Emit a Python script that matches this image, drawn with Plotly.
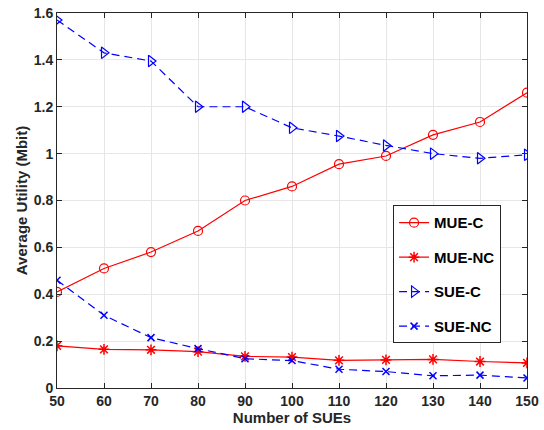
import plotly.graph_objects as go

x_sues = [50, 60, 70, 80, 90, 100, 110, 120, 130, 140, 150]
mue_c = [0.41, 0.51, 0.58, 0.67, 0.80, 0.86, 0.955, 0.99, 1.08, 1.135, 1.26]
mue_nc = [0.18, 0.165, 0.163, 0.155, 0.135, 0.132, 0.118, 0.12, 0.122, 0.113, 0.107]
sue_c = [1.57, 1.43, 1.395, 1.20, 1.20, 1.11, 1.075, 1.035, 1.00, 0.98, 0.995]
sue_nc = [0.46, 0.31, 0.215, 0.168, 0.125, 0.117, 0.08, 0.07, 0.052, 0.055, 0.043]

x_ticks = [50, 60, 70, 80, 90, 100, 110, 120, 130, 140, 150]
y_ticks = [0, 0.2, 0.4, 0.6, 0.8, 1, 1.2, 1.4, 1.6]
y_tick_labels = ["0", "0.2", "0.4", "0.6", "0.8", "1", "1.2", "1.4", "1.6"]

RED = "#ff0000"
BLUE = "#0000ff"
DASH = "8px,5px"

fig = go.Figure()
fig.add_trace(go.Scatter(x=x_sues, y=mue_c, name="MUE-C", mode="lines+markers", legendgroup="a",
                         line=dict(color=RED, width=1.2),
                         marker=dict(symbol="circle-open", size=9, color=RED, line=dict(width=1.2))))
fig.add_trace(go.Scatter(x=x_sues, y=mue_nc, name="MUE-NC", mode="lines+markers", legendgroup="b",
                         line=dict(color=RED, width=1.2),
                         marker=dict(symbol="asterisk-open", size=9, color=RED, line=dict(width=1.5, color=RED))))
fig.add_trace(go.Scatter(x=x_sues, y=sue_c, name="SUE-C", mode="lines+markers", legendgroup="c",
                         line=dict(color=BLUE, width=1.2, dash=DASH),
                         marker=dict(symbol="triangle-right-open", size=10, color=BLUE, line=dict(width=1.2))))
fig.add_trace(go.Scatter(x=x_sues, y=sue_nc, name="SUE-NC", mode="lines+markers", legendgroup="d",
                         line=dict(color=BLUE, width=1.2, dash=DASH),
                         marker=dict(symbol="x-thin-open", size=7, color=BLUE, line=dict(width=1.5, color=BLUE))))

axis_common = dict(showline=True, linecolor="#262626", linewidth=1, mirror="ticks",
                   ticks="inside", ticklen=5, tickcolor="#262626", automargin=False,
                   showgrid=True, gridcolor="#e6e6e6", gridwidth=1, zeroline=False,
                   tickfont=dict(family="Liberation Sans", size=14, color="#262626"))

fig.update_xaxes(range=[50, 150], tickvals=x_ticks, ticktext=[f"<b>{v}</b>" for v in x_ticks],
                 title=dict(text="<b>Number of SUEs</b>", font=dict(family="Liberation Sans", size=15, color="#262626"),
                            standoff=4),
                 **axis_common)
fig.update_yaxes(range=[0, 1.6], tickvals=y_ticks, ticktext=[f"<b>{t}</b>" for t in y_tick_labels],
                 title=dict(text="<b>Average Utility (Mbit)</b>", font=dict(family="Liberation Sans", size=15, color="#262626"),
                            standoff=2),
                 **axis_common)

fig.update_layout(
    width=544, height=430,
    margin=dict(l=57, r=17, t=13, b=42),
    plot_bgcolor="white", paper_bgcolor="white",
    legend=dict(x=0.715, y=0.487, xanchor="left", yanchor="top",
                bordercolor="#262626", borderwidth=1, bgcolor="white",
                font=dict(family="Liberation Sans", size=15, color="black"),
                tracegroupgap=12, itemwidth=30),
    showlegend=True,
)
for tr in fig.data:
    tr.name = f"<b>{tr.name}</b>"

fig.write_html("out.html")
